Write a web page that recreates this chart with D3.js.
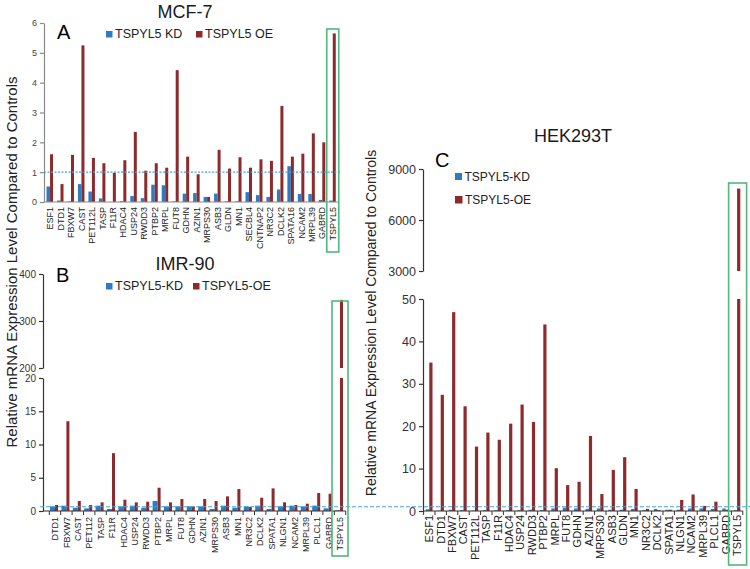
<!DOCTYPE html>
<html><head><meta charset="utf-8">
<script src="https://cdn.jsdelivr.net/npm/d3@7"></script>
<style>body{margin:0;background:#fff} text{font-family:"Liberation Sans",Arial,sans-serif}</style>
</head><body><svg id="c" width="750" height="569"></svg>
<script>
// ---------- DATA ----------
const catsA = ["ESF1","DTD1","FBXW7","CAST","PET112L","TASP","F11R","HDAC4","USP24","RWDD3","PTBP2","MRPL","FUT8","GDHN","AZIN1","MRPS30","ASB3","GLDN","MN1","SECBL4","CNTNAP2","NR3C2","DCLK2","SPATA16","NCAM2","MRPL39","GABRD","TSPYL5"];
const kdA = [0.52,0.05,0.02,0.6,0.35,0.12,0.0,0.03,0.2,0.13,0.58,0.56,0.02,0.28,0.3,0.17,0.28,0.02,0.02,0.33,0.23,0.17,0.42,1.2,0.27,0.27,0.07,0.05];
const oeA = [1.6,0.6,1.58,5.25,1.48,1.3,0.98,1.4,2.35,1.05,1.3,1.15,4.42,1.52,0.93,0.17,1.75,1.12,1.5,1.15,1.43,1.38,3.22,1.52,1.62,2.3,2.0,5.65];
const ticksA = [0,1,2,3,4,5,6];

const catsB = ["DTD1","FBXW7","CAST","PET112","TASP","F11R","HDAC4","USP24","RWDD3","PTBP2","MRPL","FUT8","GDHN","AZIN1","MRPS30","ASB3","MN1","NR3C2","DCLK2","SPATA1","NLGN1","NCAM2","MRPL39","PLCL1","GABRD","TSPYL5"];
const kdB = [0.7,0.8,0.5,0.4,0.8,0.3,0.7,0.8,0.5,1.5,0.7,0.7,0.7,0.7,0.3,0.8,0.5,0.7,0.8,0.3,0.7,0.8,0.7,0.8,0.4,0.1];
const oeB = [0.9,13.5,1.5,0.9,1.3,8.7,1.7,1.3,1.4,3.5,1.3,1.8,0.7,1.8,1.5,2.2,3.3,0.6,2.0,3.4,1.3,0.9,1.1,2.7,2.6,345];
const ticksBLow = [0,5,10,15,20];
const ticksBHigh = [200,300,400];

const catsC = ["ESF1","DTD1","FBXW7","CAST","PET112L","TASP","F11R","HDAC4","USP24","RWDD3","PTBP2","MRPL","FUT8","GDHN","AZIN1","MRPS30","ASB3","GLDN","MN1","NR3C2","DCLK2","SPATA1","NLGN1","NCAM2","MRPL39","PLCL1","GABRD","TSPYL5"];
const kdC = [0.4,0.1,0.3,0.2,0.1,0.2,0.2,0.2,0.2,0.3,0.2,0.6,0.8,0.6,0.5,0.6,0.3,0.3,0.5,0.2,0.5,0.3,0.3,0.6,0.6,0.5,0.6,0.2];
const oeC = [35,27.4,46.9,24.7,15.2,18.5,16.8,20.6,25.1,21.0,44,10.1,6.1,6.9,17.7,4.0,9.7,12.7,5.2,0.5,0.2,0.3,2.6,3.9,1.2,2.2,0.3,7850];
const ticksCLow = [0,10,20,30,40,50];
const ticksCHigh = [3000,6000,9000];

// ---------- STYLE ----------
const BLUE = "#2e7bc0", RED = "#8c2a2c", GREEN = "#52b77c", DASH = "#45a6da";
const svg = d3.select("#c");

function drawPanel(o) {
  const g = svg.append("g");
  const x = d3.scaleBand().domain(o.cats).range(o.xr);
  const segs = o.segs.map(s => ({...s, y: d3.scaleLinear().domain(s.dom).range(s.rng)}));
  // axis
  segs.forEach(s => {
    const ax = g.append("g").attr("transform", `translate(${o.axisX},0)`)
      .call(d3.axisLeft(s.y).tickValues(s.ticks).tickFormat(d3.format("d")).tickSize(4).tickSizeOuter(0).tickPadding(3));
    ax.select(".domain").attr("stroke", o.axisColor).attr("stroke-width", 1.2);
    ax.selectAll(".tick line").attr("stroke", o.axisColor).attr("stroke-width", 1.2);
    ax.selectAll(".tick text").attr("font-size", o.tickFont).attr("fill", o.tickColor)
      .style("font-family", '"Liberation Sans",Arial,sans-serif');
  });
  // bars
  const base = segs[0];
  const bars = (vals, off, w, col) => {
    segs.forEach((s, si) => {
      const lo = s.dom[0], hi = s.dom[1];
      g.append("g").selectAll("rect").data(o.cats.map((c, i) => ({c, v: vals[i]})).filter(d => si === 0 || d.v > lo))
        .join("rect")
        .attr("x", d => x(d.c) + x.bandwidth() / 2 + off)
        .attr("width", w)
        .attr("y", d => s.y(Math.min(d.v, hi)))
        .attr("height", d => s.y(lo) - s.y(Math.min(d.v, hi)))
        .attr("fill", col);
    });
  };
  bars(o.kd, -o.wKD, o.wKD, BLUE);
  bars(o.oe, 0, o.wOE, RED);
  // baseline + ticks
  const y0 = base.y(0);
  g.append("line").attr("x1", o.axisX).attr("x2", o.xr[1]).attr("y1", y0).attr("y2", y0)
    .attr("stroke", o.axisColor).attr("stroke-width", 1.2);
  if (o.xTicks) {
    g.append("g").selectAll("line").data(d3.range(o.cats.length + 1)).join("line")
      .attr("x1", i => o.xr[0] + i * x.step()).attr("x2", i => o.xr[0] + i * x.step())
      .attr("y1", y0).attr("y2", y0 + 4).attr("stroke", o.axisColor).attr("stroke-width", 1);
  }
  // category labels
  g.append("g").selectAll("text").data(o.cats).join("text")
    .attr("transform", c => `translate(${x(c) + x.bandwidth() / 2 + o.labDx},${y0 + o.labDy}) rotate(-90)`)
    .attr("text-anchor", "end").attr("dy", "0.35em")
    .attr("font-size", o.labFont).attr("fill", "#222").text(c => c);
  return {x, segs, g};
}

const A = drawPanel({cats: catsA, kd: kdA, oe: oeA, xr: [44.8, 338], axisX: 44,
  segs: [{dom: [0, 6], rng: [202, 23], ticks: ticksA}], axisColor: "#8a8a8a", tickFont: 9, tickColor: "#444",
  wKD: 3.5, wOE: 3, labFont: 9, labDx: 0, labDy: 5, xTicks: false});
const B = drawPanel({cats: catsB, kd: kdB, oe: oeB, xr: [49.3, 345.7], axisX: 43,
  segs: [{dom: [0, 20], rng: [511, 378], ticks: ticksBLow}, {dom: [200, 400], rng: [368, 274], ticks: ticksBHigh}],
  axisColor: "#333", tickFont: 10, tickColor: "#333",
  wKD: 5, wOE: 3, labFont: 9, labDx: 0, labDy: 6, xTicks: true});
const C = drawPanel({cats: catsC, kd: kdC, oe: oeC, xr: [423.6, 742.8], axisX: 423,
  segs: [{dom: [0, 50], rng: [511, 299], ticks: ticksCLow}, {dom: [3000, 9000], rng: [271, 169], ticks: ticksCHigh}],
  axisColor: "#333", tickFont: 12.5, tickColor: "#333",
  wKD: 3.4, wOE: 3.2, labFont: 11, labDx: 0, labDy: 4, xTicks: true});

// reference lines at 1
const yA = A.segs[0].y, yC = C.segs[0].y;
svg.append("line").attr("x1", 44).attr("x2", 340).attr("y1", yA(1)).attr("y2", yA(1))
  .attr("stroke", DASH).attr("stroke-width", 1.4).attr("stroke-dasharray", "2,1.5");
svg.append("line").attr("x1", 40).attr("x2", 750).attr("y1", yC(1)).attr("y2", yC(1))
  .attr("stroke", DASH).attr("stroke-width", 1.2).attr("stroke-dasharray", "4,2");

// green highlight boxes
function box(P, cat, x0off, x1off, top, bottom) {
  const cx = P.x(cat) + P.x.bandwidth() / 2;
  svg.append("rect").attr("x", cx + x0off).attr("y", top).attr("width", x1off - x0off).attr("height", bottom - top)
    .attr("fill", "none").attr("stroke", GREEN).attr("stroke-width", 1.6);
}
box(A, "TSPYL5", -6, 6, 29, 252);
box(B, "TSPYL5", -8, 8, 301, 556);
box(C, "TSPYL5", -8.5, 9.5, 183, 565);

// titles
const txt = (x, y, s, size, anchor = "middle", fill = "#1a1a1a") =>
  svg.append("text").attr("x", x).attr("y", y).attr("font-size", size).attr("text-anchor", anchor).attr("fill", fill).text(s);
txt(185, 18, "MCF-7", 18);
txt(185, 270, "IMR-90", 18);
txt(573, 142, "HEK293T", 18);
txt(57, 39, "A", 20, "start", "#000");
txt(56, 282, "B", 20, "start", "#000");
txt(435, 167, "C", 20, "start", "#000");

// legends
function leg(x, y, size, col, label, fs) {
  svg.append("rect").attr("x", x).attr("y", y).attr("width", size).attr("height", size).attr("fill", col);
  txt(x + size + 2.5, y + size + 0.5, label, fs, "start", "#222");
}
leg(106, 31, 6.5, BLUE, "TSPYL5 KD", 12.5);
leg(196, 31, 6.5, RED, "TSPYL5 OE", 12.5);
leg(106, 283, 6.5, BLUE, "TSPYL5-KD", 12.5);
leg(193, 283, 6.5, RED, "TSPYL5-OE", 12.5);
leg(455, 173, 7, BLUE, "TSPYL5-KD", 12);
leg(455, 196, 7.5, RED, "TSPYL5-OE", 12);

// y titles
const yt = "Relative mRNA Expression Level Compared to Controls";
svg.append("text").attr("transform", "translate(17,262) rotate(-90)").attr("text-anchor", "middle")
  .attr("font-size", 15).attr("fill", "#222").text(yt);
svg.append("text").attr("transform", "translate(376,323) rotate(-90)").attr("text-anchor", "middle")
  .attr("font-size", 14).attr("fill", "#222").text(yt);
</script></body></html>
